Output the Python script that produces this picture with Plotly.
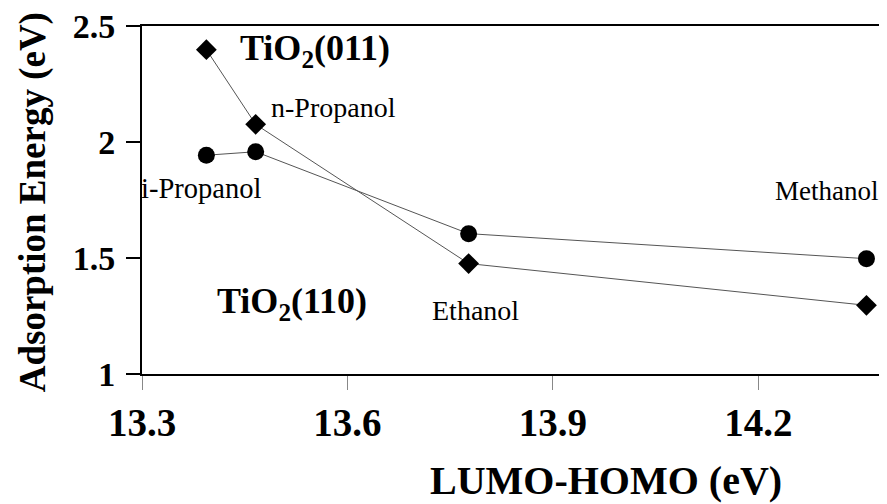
import plotly.graph_objects as go

# Data
molecules = ["i-Propanol", "n-Propanol", "Ethanol", "Methanol"]
lumo_homo = [13.394, 13.466, 13.777, 14.358]
e_tio2_011 = [2.398, 2.076, 1.476, 1.296]
e_tio2_110 = [1.943, 1.958, 1.605, 1.497]

x_ticks = [13.3, 13.6, 13.9, 14.2]
y_ticks = [1, 1.5, 2, 2.5]

FONT = "Liberation Serif"

fig = go.Figure()
fig.add_trace(go.Scatter(
    x=lumo_homo, y=e_tio2_011, mode="lines+markers", name="TiO2(011)",
    line=dict(color="#555555", width=1),
    marker=dict(symbol="diamond", size=16, color="black"),
))
fig.add_trace(go.Scatter(
    x=lumo_homo, y=e_tio2_110, mode="lines+markers", name="TiO2(110)",
    line=dict(color="#555555", width=1),
    marker=dict(symbol="circle", size=17, color="black"),
))

annos = [
    dict(x=13.440, y=2.394, text="<b>TiO<sub>2</sub>(011)</b>", size=36, xs=0),
    dict(x=13.4065, y=1.305, text="<b>TiO<sub>2</sub>(110)</b>", size=36, xs=0),
    dict(x=13.485, y=2.147, text="n-Propanol", size=28, xs=0),
    dict(x=13.3, y=1.800, text="i-Propanol", size=28.5, xs=-3),
    dict(x=13.723, y=1.273, text="Ethanol", size=28, xs=-2),
    dict(x=14.2257, y=1.787, text="Methanol", size=27, xs=-3),
]
for a in annos:
    fig.add_annotation(x=a["x"], y=a["y"], text=a["text"], showarrow=False,
                       xanchor="left", yanchor="middle", xshift=a["xs"],
                       font=dict(family=FONT, size=a["size"], color="black"))

# axis titles
fig.add_annotation(xref="paper", yref="paper", x=0.623, y=-0.305,
                   text="<b>LUMO-HOMO (eV)</b>", showarrow=False,
                   xanchor="center", yanchor="middle",
                   font=dict(family=FONT, size=40, color="black"))
fig.add_annotation(xref="paper", yref="paper", x=-0.146, y=0.494,
                   text="<b>Adsorption Energy (eV)</b>", showarrow=False,
                   textangle=-90, xanchor="center", yanchor="middle",
                   font=dict(family=FONT, size=37, color="black"))

# page body has an 8px margin: shrink the figure so it ends at the window edge
fig.update_layout(
    width=879, height=496,
    margin=dict(l=134, r=0, t=18, b=130),
    paper_bgcolor="white", plot_bgcolor="white",
    showlegend=False,
    font=dict(family=FONT, color="black"),
)
fig.update_xaxes(
    range=[13.3, 14.388], tickvals=x_ticks, ticktext=[str(v) for v in x_ticks],
    showgrid=False, zeroline=False, automargin=False,
    showline=True, linecolor="black", linewidth=2, mirror=True,
    ticks="outside", ticklen=14, tickcolor="#888888", tickwidth=1,
    tickfont=dict(family=FONT, size=39, color="black", weight="bold"),
    ticklabelstandoff=-1, ticklabeloverflow="allow",
)
fig.update_yaxes(
    range=[1, 2.5], tickvals=y_ticks, ticktext=["1", "1.5", "2", "2.5"],
    showgrid=False, zeroline=False, automargin=False,
    showline=True, linecolor="black", linewidth=2,
    ticks="outside", ticklen=14, tickcolor="black", tickwidth=1.5,
    tickfont=dict(family=FONT, size=34, color="black", weight="bold"),
    ticklabelstandoff=4, ticklabeloverflow="allow",
)

fig.write_html("out.html")
